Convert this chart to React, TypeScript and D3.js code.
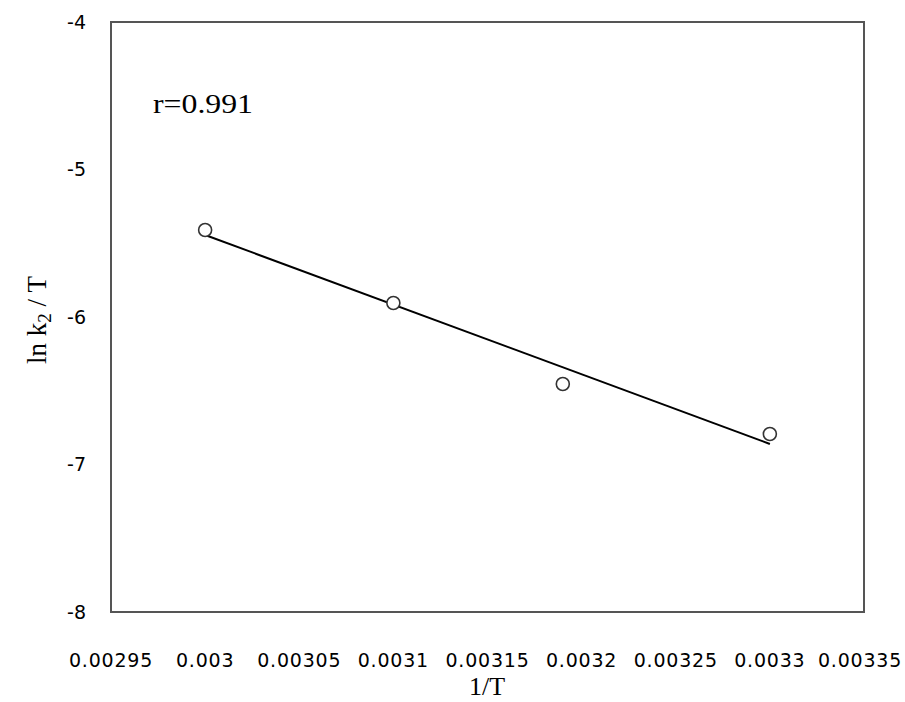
import React from "react";
import * as d3 from "d3";

// Arrhenius-type data: inverse temperature vs ln(k2/T)
const invT = [0.003, 0.0031, 0.00319, 0.0033];
const lnK2T = [-5.41, -5.905, -6.454, -6.793];
const xTicks = [0.00295, 0.003, 0.00305, 0.0031, 0.00315, 0.0032, 0.00325, 0.0033, 0.00335];
const xTickLabels = ["0.00295", "0.003", "0.00305", "0.0031", "0.00315", "0.0032", "0.00325", "0.0033", "0.00335"];
const yTicks = [-4, -5, -6, -7, -8];
const rLabel = "r=0.991";

const W = 905;
const H = 702;
const plot = { left: 111, right: 864, top: 22, bottom: 612 };

export default function App() {
  const x = d3.scaleLinear().domain([0.00295, 0.00335]).range([plot.left, plot.right]);
  const y = d3.scaleLinear().domain([-8, -4]).range([plot.bottom, plot.top]);

  // least-squares fit through the measured points
  const mx = d3.mean(invT)!;
  const my = d3.mean(lnK2T)!;
  const sxy = d3.sum(invT.map((v, i) => (v - mx) * (lnK2T[i] - my)));
  const sxx = d3.sum(invT.map((v) => (v - mx) ** 2));
  const slope = sxy / sxx;
  const intercept = my - slope * mx;
  const x0 = d3.min(invT)!;
  const x1 = d3.max(invT)!;
  const fit = d3.line<number>()
    .x((d) => x(d))
    .y((d) => y(intercept + slope * d))([x0, x1]);

  const tickFont = "'DejaVu Sans', Verdana, sans-serif";
  const serif = "'Liberation Serif', 'Times New Roman', serif";

  return (
    <svg width={W} height={H} style={{ position: "absolute", left: 0, top: 0, background: "#fff" }}>
      <rect x={0} y={0} width={W} height={H} fill="#fff" />
      <rect
        x={plot.left}
        y={plot.top}
        width={plot.right - plot.left}
        height={plot.bottom - plot.top}
        fill="none"
        stroke="#555"
        strokeWidth={2}
      />
      {yTicks.map((t) => (
        <text
          key={t}
          x={86}
          y={y(t)}
          dy="0.36em"
          textAnchor="end"
          fontFamily={tickFont}
          fontSize={19}
          fill="#000"
        >
          {t}
        </text>
      ))}
      {xTicks.map((t, i) => (
        <text
          key={t}
          x={i === xTicks.length - 1 ? x(t) - 4 : x(t)}
          y={667}
          textAnchor="middle"
          fontFamily={tickFont}
          fontSize={19}
          letterSpacing={0.8}
          fill="#000"
        >
          {xTickLabels[i]}
        </text>
      ))}
      <path d={fit ?? ""} fill="none" stroke="#000" strokeWidth={2} />
      {invT.map((v, i) => (
        <circle
          key={v}
          cx={x(v)}
          cy={y(lnK2T[i])}
          r={6.5}
          fill="#fff"
          stroke="#333"
          strokeWidth={1.6}
        />
      ))}
      <text
        x={153}
        y={113}
        fontFamily={serif}
        fontSize={27}
        fill="#000"
        textLength={100}
        lengthAdjust="spacingAndGlyphs"
      >
        {rLabel}
      </text>
      <text x={487} y={695} textAnchor="middle" fontFamily={serif} fontSize={26} fill="#000">
        1/T
      </text>
      <text
        transform={`translate(46,320) rotate(-90)`}
        textAnchor="middle"
        fontFamily={serif}
        fontSize={27}
        fill="#000"
      >
        ln k<tspan fontSize={19} dy={5}>2</tspan>
        <tspan dy={-5}> / T</tspan>
      </text>
    </svg>
  );
}
